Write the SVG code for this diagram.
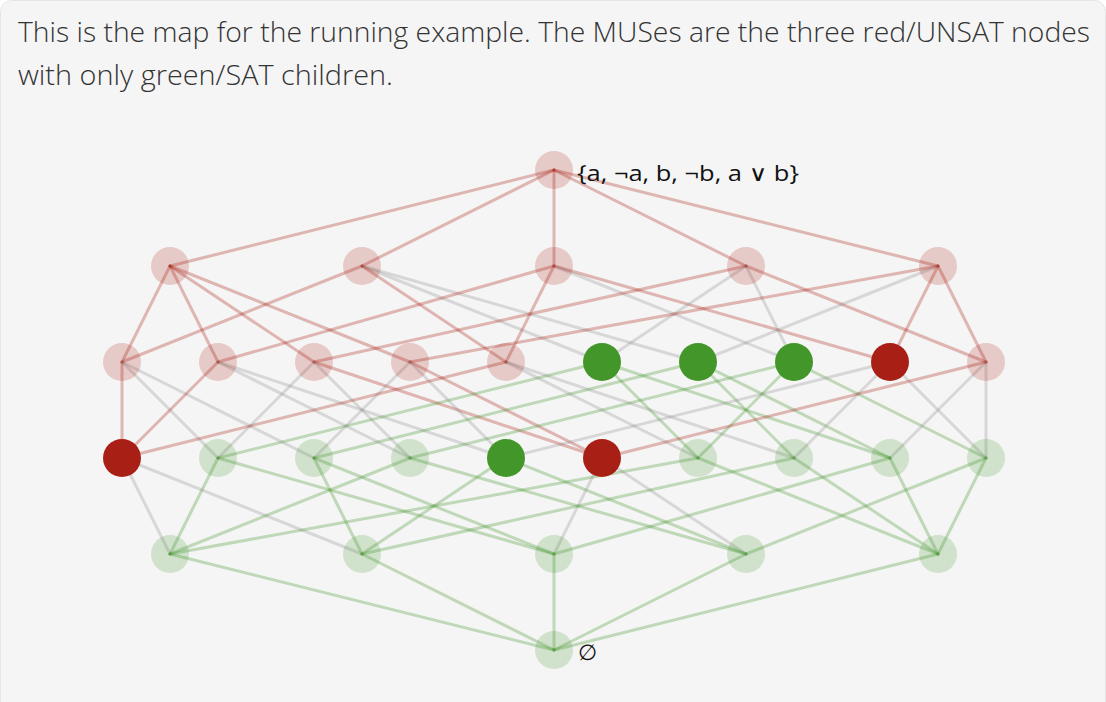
<svg xmlns="http://www.w3.org/2000/svg" width="1106" height="702" viewBox="0 0 1106 702">
<style>
.hd{font-family:"Open Sans","Liberation Sans",sans-serif;font-weight:300;font-size:28px;fill:#333}
.lb{font-family:"Open Sans","DejaVu Sans","Liberation Sans",sans-serif;font-weight:400;font-size:22px;fill:#111}
.e line{stroke-width:3;stroke-linecap:round}
.r{stroke:#a82015;stroke-opacity:0.3}
.g{stroke:#43962a;stroke-opacity:0.3}
.x{stroke:#808080;stroke-opacity:0.25}
.ur{fill:#a82015}
.sg{fill:#43962a}
.fr{fill:#a82015;fill-opacity:0.2}
.fg{fill:#43962a;fill-opacity:0.2}
</style>
<rect width="1106" height="702" fill="#ffffff"/>
<rect x="0.5" y="0.5" width="1105" height="730" rx="11" fill="#f5f5f5" stroke="#e6e6e6"/>
<text class="hd" x="18" y="42" textLength="1072" lengthAdjust="spacingAndGlyphs">This is the map for the running example. The MUSes are the three red/UNSAT nodes</text>
<text class="hd" x="18" y="85" textLength="375" lengthAdjust="spacingAndGlyphs">with only green/SAT children.</text>
<g id="connectors" class="e">
<line class="r" x1="554" y1="170" x2="170" y2="266"/>
<line class="r" x1="554" y1="170" x2="362" y2="266"/>
<line class="r" x1="554" y1="170" x2="554" y2="266"/>
<line class="r" x1="554" y1="170" x2="746" y2="266"/>
<line class="r" x1="554" y1="170" x2="938" y2="266"/>
<line class="r" x1="170" y1="266" x2="122" y2="362"/>
<line class="r" x1="170" y1="266" x2="218" y2="362"/>
<line class="r" x1="170" y1="266" x2="314" y2="362"/>
<line class="r" x1="170" y1="266" x2="410" y2="362"/>
<line class="x" x1="362" y1="266" x2="698" y2="362"/>
<line class="x" x1="362" y1="266" x2="602" y2="362"/>
<line class="r" x1="362" y1="266" x2="506" y2="362"/>
<line class="r" x1="362" y1="266" x2="122" y2="362"/>
<line class="r" x1="554" y1="266" x2="890" y2="362"/>
<line class="x" x1="554" y1="266" x2="794" y2="362"/>
<line class="r" x1="554" y1="266" x2="506" y2="362"/>
<line class="r" x1="554" y1="266" x2="218" y2="362"/>
<line class="r" x1="746" y1="266" x2="986" y2="362"/>
<line class="x" x1="746" y1="266" x2="794" y2="362"/>
<line class="x" x1="746" y1="266" x2="602" y2="362"/>
<line class="r" x1="746" y1="266" x2="314" y2="362"/>
<line class="r" x1="938" y1="266" x2="986" y2="362"/>
<line class="r" x1="938" y1="266" x2="890" y2="362"/>
<line class="x" x1="938" y1="266" x2="698" y2="362"/>
<line class="r" x1="938" y1="266" x2="410" y2="362"/>
<line class="x" x1="122" y1="362" x2="314" y2="458"/>
<line class="x" x1="122" y1="362" x2="218" y2="458"/>
<line class="r" x1="122" y1="362" x2="122" y2="458"/>
<line class="x" x1="218" y1="362" x2="506" y2="458"/>
<line class="x" x1="218" y1="362" x2="410" y2="458"/>
<line class="r" x1="218" y1="362" x2="122" y2="458"/>
<line class="r" x1="314" y1="362" x2="602" y2="458"/>
<line class="x" x1="314" y1="362" x2="410" y2="458"/>
<line class="x" x1="314" y1="362" x2="218" y2="458"/>
<line class="r" x1="410" y1="362" x2="602" y2="458"/>
<line class="x" x1="410" y1="362" x2="506" y2="458"/>
<line class="x" x1="410" y1="362" x2="314" y2="458"/>
<line class="x" x1="506" y1="362" x2="794" y2="458"/>
<line class="x" x1="506" y1="362" x2="698" y2="458"/>
<line class="r" x1="506" y1="362" x2="122" y2="458"/>
<line class="g" x1="602" y1="362" x2="890" y2="458"/>
<line class="g" x1="602" y1="362" x2="698" y2="458"/>
<line class="g" x1="602" y1="362" x2="218" y2="458"/>
<line class="g" x1="698" y1="362" x2="890" y2="458"/>
<line class="g" x1="698" y1="362" x2="794" y2="458"/>
<line class="g" x1="698" y1="362" x2="314" y2="458"/>
<line class="g" x1="794" y1="362" x2="986" y2="458"/>
<line class="g" x1="794" y1="362" x2="698" y2="458"/>
<line class="g" x1="794" y1="362" x2="410" y2="458"/>
<line class="x" x1="890" y1="362" x2="986" y2="458"/>
<line class="x" x1="890" y1="362" x2="794" y2="458"/>
<line class="x" x1="890" y1="362" x2="506" y2="458"/>
<line class="x" x1="986" y1="362" x2="986" y2="458"/>
<line class="x" x1="986" y1="362" x2="890" y2="458"/>
<line class="r" x1="986" y1="362" x2="602" y2="458"/>
<line class="x" x1="122" y1="458" x2="362" y2="554"/>
<line class="x" x1="122" y1="458" x2="170" y2="554"/>
<line class="g" x1="218" y1="458" x2="554" y2="554"/>
<line class="g" x1="218" y1="458" x2="170" y2="554"/>
<line class="g" x1="314" y1="458" x2="554" y2="554"/>
<line class="g" x1="314" y1="458" x2="362" y2="554"/>
<line class="g" x1="410" y1="458" x2="746" y2="554"/>
<line class="g" x1="410" y1="458" x2="170" y2="554"/>
<line class="g" x1="506" y1="458" x2="746" y2="554"/>
<line class="g" x1="506" y1="458" x2="362" y2="554"/>
<line class="x" x1="602" y1="458" x2="746" y2="554"/>
<line class="x" x1="602" y1="458" x2="554" y2="554"/>
<line class="g" x1="698" y1="458" x2="938" y2="554"/>
<line class="g" x1="698" y1="458" x2="170" y2="554"/>
<line class="g" x1="794" y1="458" x2="938" y2="554"/>
<line class="g" x1="794" y1="458" x2="362" y2="554"/>
<line class="g" x1="890" y1="458" x2="938" y2="554"/>
<line class="g" x1="890" y1="458" x2="554" y2="554"/>
<line class="g" x1="986" y1="458" x2="938" y2="554"/>
<line class="g" x1="986" y1="458" x2="746" y2="554"/>
<line class="g" x1="170" y1="554" x2="554" y2="650"/>
<line class="g" x1="362" y1="554" x2="554" y2="650"/>
<line class="g" x1="554" y1="554" x2="554" y2="650"/>
<line class="g" x1="746" y1="554" x2="554" y2="650"/>
<line class="g" x1="938" y1="554" x2="554" y2="650"/>
</g>
<g id="n31"><circle class="fr" cx="554" cy="170" r="19"/><text class="lb" x="577" y="181" textLength="222" lengthAdjust="spacingAndGlyphs">{a, ¬a, b, ¬b, a ∨ b}</text></g>
<g id="n15"><circle class="fr" cx="170" cy="266" r="19"/></g>
<g id="n23"><circle class="fr" cx="362" cy="266" r="19"/></g>
<g id="n27"><circle class="fr" cx="554" cy="266" r="19"/></g>
<g id="n29"><circle class="fr" cx="746" cy="266" r="19"/></g>
<g id="n30"><circle class="fr" cx="938" cy="266" r="19"/></g>
<g id="n7"><circle class="fr" cx="122" cy="362" r="19"/></g>
<g id="n11"><circle class="fr" cx="218" cy="362" r="19"/></g>
<g id="n13"><circle class="fr" cx="314" cy="362" r="19"/></g>
<g id="n14"><circle class="fr" cx="410" cy="362" r="19"/></g>
<g id="n19"><circle class="fr" cx="506" cy="362" r="19"/></g>
<g id="n21"><circle class="sg" cx="602" cy="362" r="19"/></g>
<g id="n22"><circle class="sg" cx="698" cy="362" r="19"/></g>
<g id="n25"><circle class="sg" cx="794" cy="362" r="19"/></g>
<g id="n26"><circle class="ur" cx="890" cy="362" r="19"/></g>
<g id="n28"><circle class="fr" cx="986" cy="362" r="19"/></g>
<g id="n3"><circle class="ur" cx="122" cy="458" r="19"/></g>
<g id="n5"><circle class="fg" cx="218" cy="458" r="19"/></g>
<g id="n6"><circle class="fg" cx="314" cy="458" r="19"/></g>
<g id="n9"><circle class="fg" cx="410" cy="458" r="19"/></g>
<g id="n10"><circle class="sg" cx="506" cy="458" r="19"/></g>
<g id="n12"><circle class="ur" cx="602" cy="458" r="19"/></g>
<g id="n17"><circle class="fg" cx="698" cy="458" r="19"/></g>
<g id="n18"><circle class="fg" cx="794" cy="458" r="19"/></g>
<g id="n20"><circle class="fg" cx="890" cy="458" r="19"/></g>
<g id="n24"><circle class="fg" cx="986" cy="458" r="19"/></g>
<g id="n1"><circle class="fg" cx="170" cy="554" r="19"/></g>
<g id="n2"><circle class="fg" cx="362" cy="554" r="19"/></g>
<g id="n4"><circle class="fg" cx="554" cy="554" r="19"/></g>
<g id="n8"><circle class="fg" cx="746" cy="554" r="19"/></g>
<g id="n16"><circle class="fg" cx="938" cy="554" r="19"/></g>
<g id="n0"><circle class="fg" cx="554" cy="650" r="19"/><text class="lb" x="578" y="660">∅</text></g>
</svg>
